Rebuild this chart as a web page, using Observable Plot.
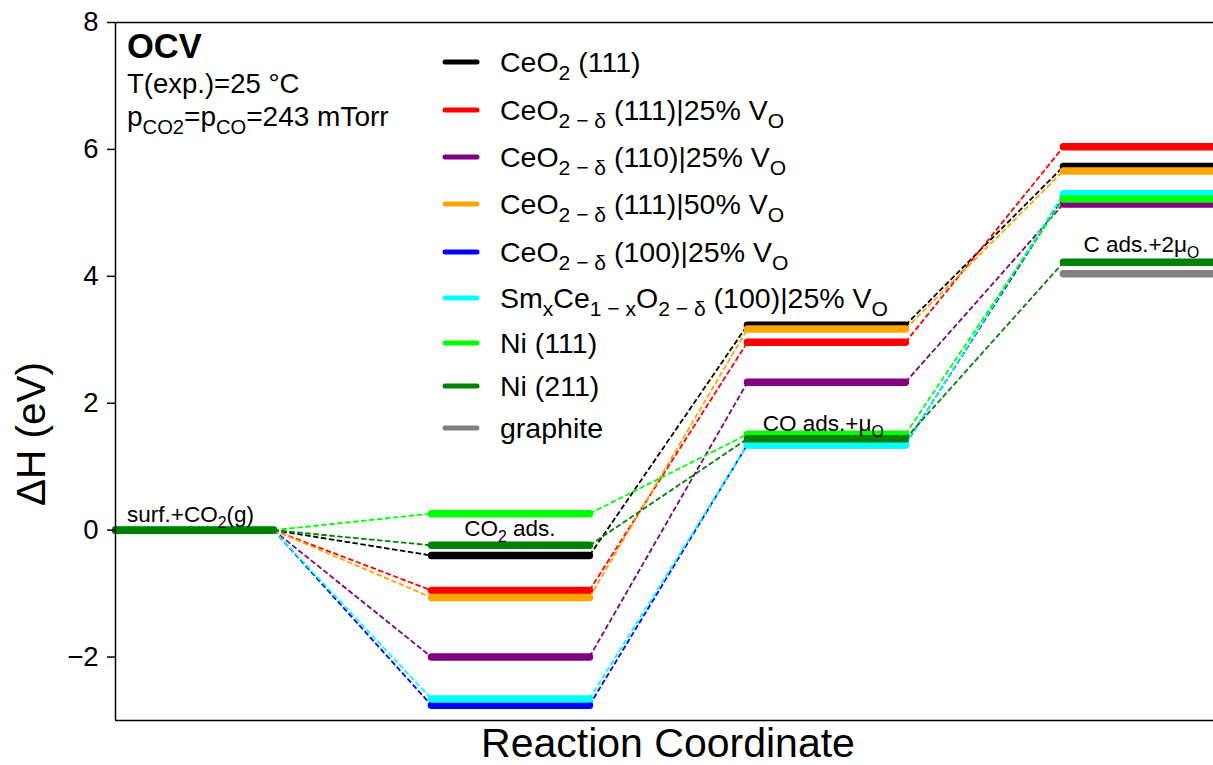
<!DOCTYPE html>
<html><head><meta charset="utf-8">
<script src="https://cdn.jsdelivr.net/npm/d3@7"></script>
<script src="https://cdn.jsdelivr.net/npm/@observablehq/plot@0.6"></script>
<style>body{margin:0;background:#fff} svg{display:block} text{white-space:pre}</style>
</head><body><div id="chart"></div>
<script>
// ---- data ----
const stateLabels = ["surf.+CO_{2}(g)", "CO_{2} ads.", "CO ads.+μ_{O}", "C ads.+2μ_{O}"];
const seriesNames = [
  "CeO_{2} (111)",
  "CeO_{2 − δ} (111)|25% V_{O}",
  "CeO_{2 − δ} (110)|25% V_{O}",
  "CeO_{2 − δ} (111)|50% V_{O}",
  "CeO_{2 − δ} (100)|25% V_{O}",
  "Sm_{x}Ce_{1 − x}O_{2 − δ} (100)|25% V_{O}",
  "Ni (111)",
  "Ni (211)",
  "graphite"
];
const seriesColors = ["#000000", "#ff0000", "#800080", "#ffa500", "#0000ff", "#00ffff", "#00ff00", "#008000", "#808080"];
const surfCO2 = [0, 0, 0, 0, 0, 0, 0, 0, null];
const co2Ads  = [-0.40, -0.95, -2.00, -1.06, -2.76, -2.66, 0.26, -0.24, null];
const coAds   = [3.23, 2.96, 2.33, 3.17, 1.35, 1.34, 1.51, 1.44, null];
const cAds    = [5.73, 6.04, 5.14, 5.66, 5.25, 5.30, 5.22, 4.22, 4.04];
const yTicks = [-2, 0, 2, 4, 6, 8];

// ---- build tables ----
const stateValues = [surfCO2, co2Ads, coAds, cAds];
const levels = [], links = [];
seriesNames.forEach((name, i) => {
  stateValues.forEach((vals, s) => {
    const v = vals[i];
    if (v == null) return;
    levels.push({series: i, x1: 2 * s, x2: 2 * s + 1, y: v});
    if (s + 1 < stateValues.length && stateValues[s + 1][i] != null) {
      links.push({series: i, x1: 2 * s + 1, y1: v, x2: 2 * s + 2, y2: stateValues[s + 1][i]});
    }
  });
});

const FONT = "'Liberation Sans', Arial, Helvetica, sans-serif";
const marks = [];
seriesNames.forEach((name, i) => {
  marks.push(Plot.link(links.filter(d => d.series === i), {
    x1: "x1", y1: "y1", x2: "x2", y2: "y2",
    stroke: seriesColors[i], strokeWidth: 1.8, strokeDasharray: "5.5,2.5"
  }));
  marks.push(Plot.link(levels.filter(d => d.series === i), {
    x1: "x1", x2: "x2", y1: "y", y2: "y",
    stroke: seriesColors[i], strokeWidth: 7.5, strokeLinecap: "round"
  }));
});

const chart = Plot.plot({
  width: 1213, height: 765,
  marginLeft: 115, marginRight: 0, marginTop: 22, marginBottom: 45,
  style: {fontFamily: FONT, background: "#fff", color: "#000"},
  x: {domain: [0, 6.95], axis: null},
  y: {domain: [-3, 8]},
  marks: [
    ...marks,
    Plot.ruleY([8], {stroke: "#000", strokeWidth: 1.5}),
    Plot.ruleY([-3], {stroke: "#000", strokeWidth: 1.5}),
    Plot.ruleX([0], {stroke: "#000", strokeWidth: 1.5}),
    Plot.axisY(yTicks, {tickSize: 8, tickPadding: 9, fontSize: 27.5, label: null, strokeWidth: 1.5, tickFormat: d => d < 0 ? "−" + Math.abs(d) : String(d)})
  ]
});
document.getElementById("chart").appendChild(chart);

// ---- rich text helper (subscripts) ----
function rich(parent, x, y, str, size, anchor = "start", weight = "normal", subScale = 0.7) {
  const t = parent.append("text").attr("x", x).attr("y", y)
    .attr("font-size", size).attr("font-family", FONT).attr("font-weight", weight)
    .attr("text-anchor", anchor).attr("fill", "#000");
  const parts = str.split(/_\{([^}]*)\}/);
  let shift = 0;
  parts.forEach((p, k) => {
    if (p === "") return;
    const sub = k % 2 === 1;
    const target = sub ? size * 0.27 : 0;
    t.append("tspan").attr("dy", target - shift).attr("font-size", sub ? size * subScale : size).text(p);
    shift = target;
  });
  return t;
}

const svg = d3.select(chart);
const xs = chart.scale("x"), ys = chart.scale("y");
const g = svg.append("g");

// state annotations
const annX = [0.076, 2.5, 4.1, 6.13];
const annY = [0.12, -0.095, 1.56, 4.37];
const annAnchor = ["start", "middle", "start", "start"];
stateLabels.forEach((lab, s) => {
  rich(g, xs.apply(annX[s]), ys.apply(annY[s]), lab, 22.5, annAnchor[s]);
});

// top-left text
rich(g, 127, 58, "OCV", 34.5, "start", "bold");
rich(g, 127, 93, "T(exp.)=25 °C", 27.5);
rich(g, 127, 126, "p_{CO2}=p_{CO}=243 mTorr", 28, "start", "normal", 0.72);

// legend
const legendRowY = [62, 110, 157, 204, 252, 298, 343, 386, 428];
seriesNames.forEach((name, i) => {
  const y = legendRowY[i];
  g.append("line").attr("x1", 445).attr("x2", 477).attr("y1", y).attr("y2", y)
    .attr("stroke", seriesColors[i]).attr("stroke-width", 5).attr("stroke-linecap", "round");
  rich(g, 500, y + 10, name, 28.5, "start", "normal", 0.74);
});

// axis labels
g.append("text").attr("transform", "translate(45,434) rotate(-90)")
  .attr("text-anchor", "middle").attr("font-size", 40.5).attr("font-family", FONT).text("ΔH (eV)");
g.append("text").attr("x", 668).attr("y", 757)
  .attr("text-anchor", "middle").attr("font-size", 41).attr("font-family", FONT).text("Reaction Coordinate");
</script>
</body></html>
